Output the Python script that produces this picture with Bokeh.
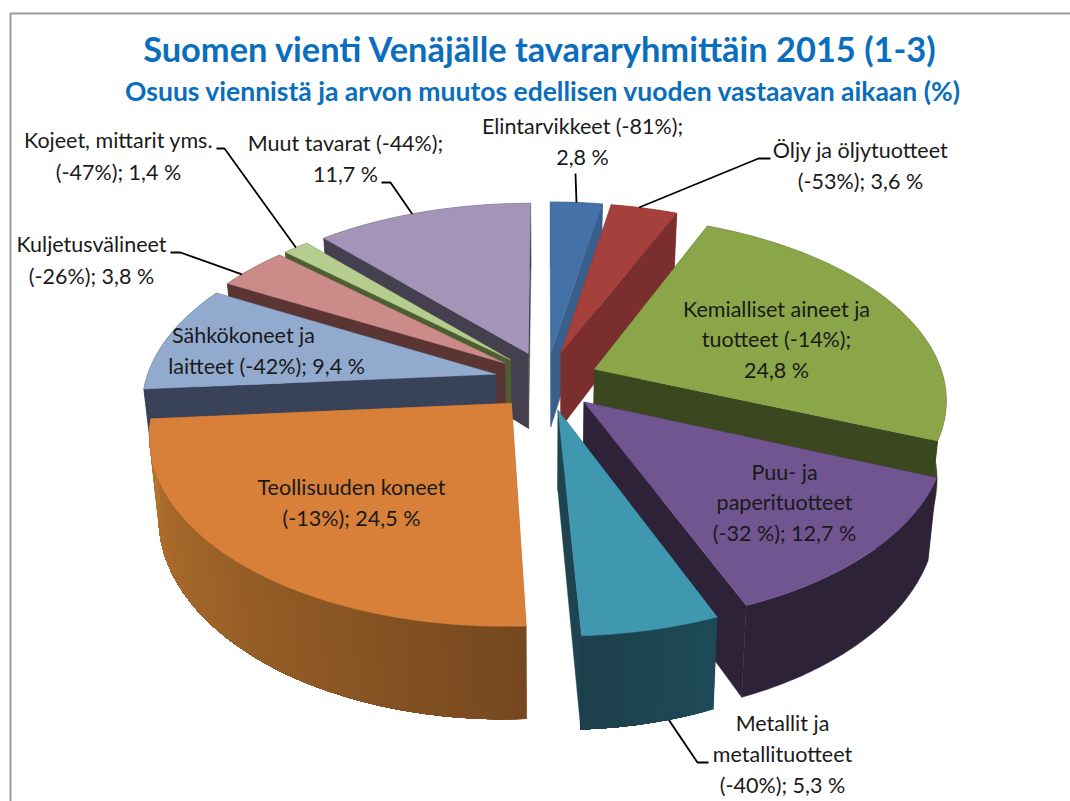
import math
from bokeh.plotting import figure
from bokeh.models import ColumnDataSource
from bokeh.core.properties import value
from bokeh.embed import file_html
from bokeh.resources import INLINE

# ---- data ----
names = ["Elintarvikkeet", "Öljy ja öljytuotteet", "Kemialliset aineet ja tuotteet", "Puu- ja paperituotteet",
         "Metallit ja metallituotteet", "Teollisuuden koneet", "Sähkökoneet ja laitteet", "Kuljetusvälineet",
         "Kojeet, mittarit yms.", "Muut tavarat"]
shares = [2.8, 3.6, 24.8, 12.7, 5.3, 24.5, 9.4, 3.8, 1.4, 11.7]
changes = [-81, -53, -14, -32, -40, -13, -42, -26, -47, -44]

title = "Suomen vienti Venäjälle tavararyhmittäin 2015 (1-3)"
subtitle = "Osuus viennistä ja arvon muutos edellisen vuoden vastaavan aikaan (%)"

label_lines = [
    ["Elintarvikkeet (-81%);", "2,8 %"],
    ["Öljy ja öljytuotteet", "(-53%); 3,6 %"],
    ["Kemialliset aineet ja", "tuotteet (-14%);", "24,8 %"],
    ["Puu- ja", "paperituotteet", "(-32 %); 12,7 %"],
    ["Metallit ja", "metallituotteet", "(-40%); 5,3 %"],
    ["Teollisuuden koneet", "(-13%); 24,5 %"],
    ["Sähkökoneet ja", "laitteet (-42%); 9,4 %"],
    ["Kuljetusvälineet", "(-26%); 3,8 %"],
    ["Kojeet, mittarit yms.", "(-47%); 1,4 %"],
    ["Muut tavarat (-44%);", "11,7 %"],
]

# ---- styles / layout ----
top_colors = ["#4472a8", "#a5403c", "#8aa648", "#715590", "#3f97b0", "#d8803a", "#93aacf", "#cb8b88", "#b5cd8e", "#a394b8"]
wall_colors = ["#39608c", "#7a2f2e", "#3b471f", "#2e2238", "#1d4450", "#a26029", "#38435a", "#5a3534", "#4e5e33", "#45404f"]
outer_from = ["#39608c", "#7a2f2e", "#3b471f", "#2e2238", "#1e4a58", "#75481e", "#38435a", "#5a3534", "#4e5e33", "#45404f"]
outer_to = ["#39608c", "#7a2f2e", "#3b471f", "#2e2238", "#1d3f4a", "#b9752f", "#38435a", "#5a3534", "#4e5e33", "#45404f"]
label_pos = [(582, 126, 31), (860, 150, 31), (776, 309, 30.5), (784, 472, 30.5), (782, 723, 31),
             (351, 487, 31), (None, 335, 31), (91, 244, 32), (118, 140, 32), (345, 143, 31)]
leaders = {
    0: (0.5, 0, [(575, 173)]),
    1: (0.42, 0, [(770, 158), (758, 158)]),
    4: (0.35, 1, [(708, 762), (697, 762)]),
    7: (0.3, 0, [(170, 252), (180, 252)]),
    8: (0.5, 0, [(216, 148), (224, 148)]),
    9: (0.45, 0, [(381, 182), (390, 182)]),
}
CX, CY, SX, SY, P, EX, EY, DEPTH, SHRINK = 546, 380, 350, 181, 0.154, 0.149, 0.164, 77, 0.977
FONT = "Lato"


def proj(u, v, low=False):
    w = 1 + P * v
    x = CX + SX * u / w
    y = CY - SY * v / w
    if low:
        x = CX + (x - CX) * SHRINK
        y += DEPTH / w
    return x, y


def mix(a, b, t):
    ca = [int(a[i:i + 2], 16) for i in (1, 3, 5)]
    cb = [int(b[i:i + 2], 16) for i in (1, 3, 5)]
    return "#%02x%02x%02x" % tuple(round(p + (q - p) * t) for p, q in zip(ca, cb))


total = sum(shares)
starts, ends = [], []
acc = 0.0
for s in shares:
    starts.append(acc / total * 2 * math.pi)
    acc += s
    ends.append(acc / total * 2 * math.pi)


def apex(i):
    m = (starts[i] + ends[i]) / 2
    return EX * math.sin(m), EY * math.cos(m)


def rim(i, t):
    a0, b0 = apex(i)
    a = starts[i] + (ends[i] - starts[i]) * t
    return a0 + math.sin(a), b0 + math.cos(a)


xs, ys, colors, widths = [], [], [], []


def add(poly, color, width=0.4):
    xs.append([q[0] for q in poly])
    ys.append([q[1] for q in poly])
    colors.append(color)
    widths.append(width)


order = sorted(range(len(shares)), key=lambda i: -math.cos((starts[i] + ends[i]) / 2))
for i in order:
    ap = apex(i)
    n = max(12, int(shares[i] * 5))
    for t in (0, 1):
        r = rim(i, t)
        add([proj(*ap), proj(*r), proj(*r, low=True), proj(*ap, low=True)], wall_colors[i])
    arc = [rim(i, k / n) for k in range(n + 1)]
    if outer_from[i] == outer_to[i]:
        add([proj(*r) for r in arc] + [proj(*r, low=True) for r in reversed(arc)], outer_from[i])
    else:
        # shaded rim: each band overlaps the following ones, so no seams show
        for k in range(n):
            rest = arc[k:]
            add([proj(*r) for r in rest] + [proj(*r, low=True) for r in reversed(rest)],
                mix(outer_from[i], outer_to[i], k / n), 0)
    add([proj(*ap)] + [proj(*r) for r in arc], top_colors[i])

p = figure(width=1070, height=801, x_range=(0, 1070), y_range=(801, 0), output_backend="svg",
           toolbar_location=None, min_border=0, outline_line_color=None, background_fill_color="white")
p.axis.visible = False
p.grid.visible = False

# frame of the picture
p.line([10, 10, 1070], [801, 13, 13], line_color="#9a9a9a", line_width=2)

p.patches("x", "y", source=ColumnDataSource(dict(x=xs, y=ys, c=colors, w=widths)), fill_color="c", line_color="c",
          line_width="w")

for i, (frac, low, pts) in leaders.items():
    end = proj(*rim(i, frac), low=bool(low))
    p.line([q[0] for q in pts] + [end[0]], [q[1] for q in pts] + [end[1]], line_color="black", line_width=1.8)

p.text([540], [48], text=[title], text_font=value(FONT), text_font_style="bold", text_font_size="34.4px",
       text_color="#0a6ebd", text_align="center", text_baseline="middle")
p.text([543], [90], text=[subtitle], text_font=value(FONT), text_font_style="bold", text_font_size="26.5px",
       text_color="#0a6ebd", text_align="center", text_baseline="middle")

tx, ty, tt = [], [], []
line_centres_6 = [243, 266]
for i, lines in enumerate(label_lines):
    lx, ly, step = label_pos[i]
    for j, line in enumerate(lines):
        tx.append(lx if lx is not None else line_centres_6[j])
        ty.append(ly + j * step - 1)
        tt.append(line)
p.text(tx, ty, text=tt, text_font=value(FONT), text_font_size="21.5px", text_color="#1a1a1a",
       text_align="center", text_baseline="middle")

open("out.html", "w").write(file_html(p, INLINE))
